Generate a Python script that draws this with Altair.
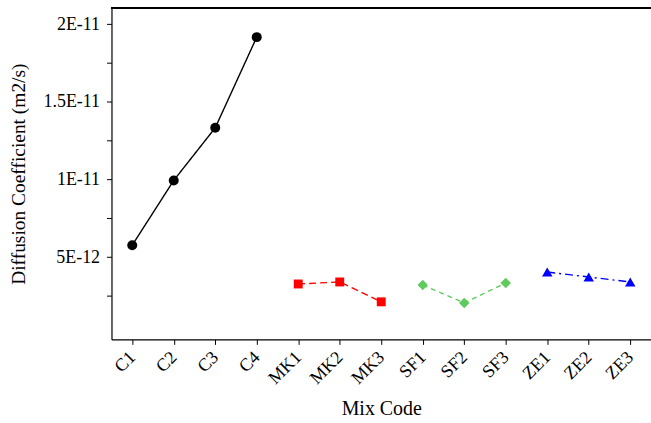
import altair as alt
import pandas as pd

mix_codes = ["C1", "C2", "C3", "C4", "MK1", "MK2", "MK3", "SF1", "SF2", "SF3", "ZE1", "ZE2", "ZE3"]
groups = ["C", "C", "C", "C", "MK", "MK", "MK", "SF", "SF", "SF", "ZE", "ZE", "ZE"]
diffusion = [5.77e-12, 9.94e-12, 13.33e-12, 19.17e-12,
             3.27e-12, 3.40e-12, 2.12e-12,
             3.20e-12, 2.05e-12, 3.33e-12,
             4.04e-12, 3.72e-12, 3.40e-12]

group_names = ["C", "MK", "SF", "ZE"]
group_colors = ["#000000", "#FF0000", "#5FCB5F", "#0000FF"]
group_shapes = ["circle", "square", "diamond", "triangle-up"]
group_dashes = [[1, 0], [7, 4], [5, 4], [8, 4, 2, 4]]
group_sizes = [100, 80, 110, 110]

y_ticks = [2.5e-12, 5e-12, 7.5e-12, 1e-11, 1.25e-11, 1.5e-11, 1.75e-11, 2e-11]

df = pd.DataFrame({"mix": mix_codes, "group": groups, "D": diffusion})

FONT = "Liberation Serif"

x_enc = alt.X("mix:N", sort=mix_codes,
              scale=alt.Scale(type="point", padding=0.5),
              axis=alt.Axis(title="Mix Code", labelAngle=-45, labelAlign="right",
                            labelBaseline="middle", labelFontSize=18, titleFontSize=20,
                            labelFont=FONT, titleFont=FONT, titleFontWeight="normal",
                            labelColor="black", titleColor="black",
                            tickColor="black", domainColor="black", tickSize=5,
                            domainWidth=1.2, labelPadding=10, titlePadding=11, grid=False))
y_enc = alt.Y("D:Q", scale=alt.Scale(domain=[-0.3e-12, 2.105e-11], nice=False, zero=False),
              axis=alt.Axis(title="Diffusion Coefficient (m2/s)", values=y_ticks,
                            labelExpr="datum.value == 2e-11 ? '2E-11' : datum.value == 1.5e-11 ? '1.5E-11' : datum.value == 1e-11 ? '1E-11' : datum.value == 5e-12 ? '5E-12' : ''",
                            labelFontSize=18, titleFontSize=19.5, labelFont=FONT, titleFont=FONT,
                            titleFontWeight="normal", labelColor="black", titleColor="black",
                            tickColor="black", domainColor="black", tickSize=5,
                            domainWidth=1.2, labelPadding=7, titlePadding=15, grid=False))

layers = []
for g, c, s, d, sz in zip(group_names, group_colors, group_shapes, group_dashes, group_sizes):
    base = alt.Chart(df).transform_filter(alt.datum.group == g)
    layers.append(base.mark_line(color=c, strokeWidth=1.4, strokeDash=d).encode(x=x_enc, y=y_enc))
    layers.append(base.mark_point(color=c, fill=c, filled=True, opacity=1, shape=s, size=sz).encode(x=x_enc, y=y_enc))

top_border = alt.Chart(df).mark_rule(color="black", strokeWidth=1.2).encode(
    x=alt.value(0), x2=alt.value(545), y=alt.value(0))
layers.append(top_border)

chart = alt.layer(*layers).properties(
    width=542, height=333,
    autosize=alt.AutoSizeParams(type="none"),
    padding={"left": 112, "top": 7, "right": 0, "bottom": 83},
    background="white",
).configure_view(stroke=None)

chart.save("out.html", embed_options={"renderer": "svg", "actions": False})
